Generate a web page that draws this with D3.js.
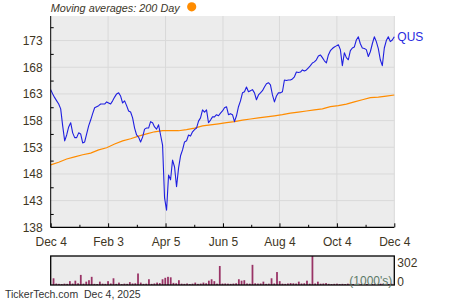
<!DOCTYPE html>
<html>
<head>
<meta charset="utf-8">
<script src="https://cdn.jsdelivr.net/npm/d3@7"></script>
<style>
  body { margin: 0; background: #fff; }
  svg { display: block; font-family: "Liberation Sans", Arial, sans-serif; }
</style>
</head>
<body>
<svg></svg>
<script>
//closing prices, evenly spaced from Dec 4 2024 to Dec 4 2025
var prices = [163.8, 163.0, 162.3, 161.7, 161.1, 160.2, 157.0, 154.2, 155.3, 156.8,
  157.6, 155.7, 154.8, 154.8, 155.7, 155.5, 153.8, 154.0, 155.5, 157.0,
  158.1, 159.3, 160.4, 160.6, 160.8, 161.1, 161.1, 161.1, 161.5, 161.3,
  161.1, 161.7, 162.4, 163.0, 163.2, 162.6, 161.3, 161.7, 160.8, 159.8,
  159.6, 158.5, 156.6, 155.3, 154.9, 154.0, 154.9, 156.4, 156.6, 156.6,
  157.8, 157.6, 156.8, 156.4, 157.2, 155.3, 153.4, 143.5, 141.2, 147.8,
  146.9, 150.6, 149.3, 145.6, 149.1, 151.4, 152.5, 154.0, 154.2, 155.3,
  155.1, 155.9, 156.3, 156.6, 157.9, 158.5, 160.0, 159.6, 160.0, 157.6,
  158.1, 158.7, 158.7, 159.1, 158.9, 159.4, 159.8, 160.4, 160.6, 159.1,
  159.3, 159.1, 157.8, 158.9, 160.6, 161.7, 163.2, 163.4, 164.3, 163.4,
  163.6, 163.8, 163.2, 161.9, 162.8, 163.2, 163.6, 164.3, 164.9, 165.1,
  164.7, 162.8, 161.5, 162.6, 163.2, 163.2, 163.4, 165.6, 165.5, 165.6,
  165.6, 165.8, 166.2, 167.1, 167.0, 167.1, 167.5, 167.3, 167.5, 167.9,
  168.3, 168.8, 169.0, 169.4, 170.1, 170.3, 169.8, 169.2, 168.8, 170.3,
  171.1, 171.5, 171.8, 172.0, 172.2, 171.3, 168.3, 170.7, 169.8, 169.4,
  171.1, 171.6, 171.8, 173.1, 173.7, 172.4, 171.6, 171.5, 171.3, 170.0,
  170.9, 172.4, 173.7, 172.8, 171.5, 169.4, 168.3, 171.6, 173.0, 173.7,
  172.8, 173.1, 173.7];

//200 day moving average, evenly spaced over the same year
var ma200 = [149.7, 150.2, 150.8, 151.2, 151.6, 151.9, 152.5, 152.9, 153.6, 154.2,
  154.6, 155.1, 155.5, 155.9, 156.1, 156.1, 156.1, 156.3, 156.6, 157.0,
  157.2, 157.4, 157.6, 157.8, 158.1, 158.3, 158.5, 158.7, 158.9, 159.1,
  159.4, 159.6, 159.8, 160.0, 160.2, 160.6, 160.8, 161.1, 161.5, 161.9,
  162.3, 162.4, 162.6, 162.8];

//volume in 1000's, evenly spaced over the same year
var volume = [70, 15, 12, 10, 14, 12, 40, 15, 45, 18,
  105, 14, 35, 50, 85, 12, 10, 35, 14, 12,
  40, 16, 70, 12, 25, 10, 14, 12, 30, 16,
  18, 120, 25, 12, 14, 60, 12, 16, 25, 20,
  60, 75, 85, 80, 22, 18, 50, 14, 12, 16,
  10, 14, 25, 12, 15, 25, 18, 45, 60, 40,
  14, 198, 15, 16, 14, 12, 15, 18, 60, 45,
  50, 16, 14, 210, 18, 15, 16, 35, 12, 14,
  70, 16, 135, 40, 14, 12, 16, 20, 18, 15,
  35, 16, 18, 45, 14, 302, 16, 35, 14, 16,
  20, 12, 10, 12, 14, 10, 12, 10, 14, 12,
  10, 12, 14, 10, 12, 10, 8, 10, 12, 10,
  14, 10, 12, 10, 14];

//tick labels
var priceTicks = [138, 143, 148, 153, 158, 163, 168, 173];
var priceMinor = [140.5, 145.5, 150.5, 155.5, 160.5, 165.5, 170.5, 175.5];
var dateTicks = ["2024-12-04", "2025-02-03", "2025-04-05", "2025-06-05",
  "2025-08-04", "2025-10-04", "2025-12-04"];
var volumeTicks = [0, 302];

var svgWidth = 450, svgHeight = 300;
//plot box (names avoid window.top)
var plotLeft = 50.7, plotRight = 394.3, plotTop = 16, plotBottom = 227.3;
var volTop = 256, volBottom = 285;

var svg = d3.select("svg")
    .attr("width", svgWidth)
    .attr("height", svgHeight);

var parse = d3.timeParse("%Y-%m-%d");
var tickDates = dateTicks.map(parse);

//x axis is a time scale, series are spread over it by index
var xTime = d3.scaleTime()
    .domain([tickDates[0], tickDates[tickDates.length - 1]])
    .range([plotLeft, plotRight]);
var xPrice = d3.scaleLinear().domain([0, prices.length - 1]).range([plotLeft, plotRight]);
var xMa = d3.scaleLinear().domain([0, ma200.length - 1]).range([plotLeft, plotRight]);
var xVol = d3.scaleBand().domain(d3.range(volume.length)).range([plotLeft + 1, plotRight - 1]).padding(0.35);

var y = d3.scaleLinear().domain([138, 177.6]).range([plotBottom, plotTop]);
var yVol = d3.scaleLinear().domain([0, 302]).range([volBottom, volTop]);

//plot background
svg.append("rect")
    .attr("x", plotLeft).attr("y", plotTop)
    .attr("width", plotRight - plotLeft).attr("height", plotBottom - plotTop)
    .attr("fill", "#ececec");

//grid lines
svg.append("g")
    .selectAll("line")
    .data(priceTicks.slice(1))
    .enter()
    .append("line")
    .attr("x1", plotLeft).attr("x2", plotRight)
    .attr("y1", function(d) { return y(d); })
    .attr("y2", function(d) { return y(d); })
    .attr("stroke", "#d9d9d9");

svg.append("g")
    .selectAll("line")
    .data(tickDates.slice(1))
    .enter()
    .append("line")
    .attr("x1", function(d) { return xTime(d); })
    .attr("x2", function(d) { return xTime(d); })
    .attr("y1", plotTop).attr("y2", plotBottom)
    .attr("stroke", "#d9d9d9");

//moving average line
svg.append("path")
    .datum(ma200)
    .attr("fill", "none")
    .attr("stroke", "#ff8c00")
    .attr("stroke-width", 1.2)
    .attr("d", d3.line()
        .x(function(d, i) { return xMa(i); })
        .y(function(d) { return y(d); }));

//price line
svg.append("path")
    .datum(prices)
    .attr("fill", "none")
    .attr("stroke", "#1f1fe0")
    .attr("stroke-width", 1.1)
    .attr("stroke-linejoin", "round")
    .attr("d", d3.line()
        .x(function(d, i) { return xPrice(i); })
        .y(function(d) { return y(d); }));

svg.append("text")
    .attr("x", plotRight + 3)
    .attr("y", y(prices[prices.length - 1]) + 4)
    .attr("fill", "#2a2ae0")
    .attr("font-size", 12)
    .text("QUS");

//left axis with labels
var textColor = "#40361f";
var yAxis = svg.append("g")
    .attr("transform", "translate(" + plotLeft + ",0)")
    .call(d3.axisLeft(y).tickValues(priceTicks).tickSize(0).tickPadding(8));
yAxis.select(".domain").attr("stroke", "#000").attr("d", "M0," + plotTop + "V" + plotBottom);
yAxis.selectAll("text").attr("font-size", 12).attr("fill", textColor).attr("font-family", null);

//small inside ticks on the left axis
svg.append("g")
    .attr("transform", "translate(" + plotLeft + ",0)")
    .call(d3.axisRight(y).tickValues(priceMinor).tickSize(3).tickFormat(""))
    .call(function(g) { g.select(".domain").remove(); });

//bottom axis
var xAxis = svg.append("g")
    .attr("transform", "translate(0," + plotBottom + ")")
    .call(d3.axisBottom(xTime).tickValues(tickDates).tickSize(-4).tickPadding(10)
        .tickFormat(d3.timeFormat("%b %-d")));
xAxis.select(".domain").attr("stroke", "#000").attr("stroke-width", 1.3).attr("d", "M" + plotLeft + ",0H" + plotRight);
xAxis.selectAll("text").attr("font-size", 12).attr("fill", textColor).attr("font-family", null);

var minorDates = d3.pairs(tickDates).map(function(p) {
    return new Date((p[0].getTime() + p[1].getTime()) / 2);
});
svg.append("g")
    .attr("transform", "translate(0," + plotBottom + ")")
    .call(d3.axisBottom(xTime).tickValues(minorDates).tickSize(-2.5).tickFormat(""))
    .call(function(g) { g.select(".domain").remove(); });

//title with the orange dot
svg.append("text")
    .attr("x", plotLeft)
    .attr("y", 12)
    .attr("font-size", 11.5)
    .attr("font-style", "italic")
    .attr("fill", "#3c3628")
    .attr("textLength", 129)
    .attr("lengthAdjust", "spacingAndGlyphs")
    .text("Moving averages: 200 Day");
svg.append("circle")
    .attr("cx", 191.7).attr("cy", 6.8).attr("r", 4.6)
    .attr("fill", "#ff8c00");

//volume panel
svg.append("rect")
    .attr("x", plotLeft).attr("y", volTop)
    .attr("width", plotRight - plotLeft).attr("height", volBottom - volTop)
    .attr("fill", "#ececec");

svg.append("g")
    .selectAll("rect")
    .data(volume)
    .enter()
    .append("rect")
    .attr("x", function(d, i) { return xVol(i); })
    .attr("y", function(d) { return yVol(d); })
    .attr("width", Math.max(1, xVol.bandwidth()))
    .attr("height", function(d) { return volBottom - yVol(d); })
    .attr("fill", "#993366");

svg.append("rect")
    .attr("x", plotLeft).attr("y", volTop)
    .attr("width", plotRight - plotLeft).attr("height", volBottom - volTop)
    .attr("fill", "none")
    .attr("stroke", "#000")
    .attr("stroke-width", 1.3);

svg.append("text")
    .attr("x", plotRight - 2)
    .attr("y", volBottom)
    .attr("text-anchor", "end")
    .attr("font-size", 12)
    .attr("fill", "#5c7a68")
    .text("(1000's)");

svg.append("g")
    .selectAll("text")
    .data(volumeTicks)
    .enter()
    .append("text")
    .attr("x", plotRight + 3)
    .attr("y", function(d) { return d === 0 ? yVol(d) + 1 : yVol(d) + 11; })
    .attr("font-size", 12)
    .attr("fill", textColor)
    .text(function(d) { return d; });

//footer
svg.append("text")
    .attr("x", 5).attr("y", 298)
    .attr("font-size", 10.5)
    .attr("fill", "#333")
    .text("TickerTech.com");
svg.append("text")
    .attr("x", 84).attr("y", 298)
    .attr("font-size", 10.5)
    .attr("fill", "#333")
    .text("Dec 4, 2025");
</script>
</body>
</html>
